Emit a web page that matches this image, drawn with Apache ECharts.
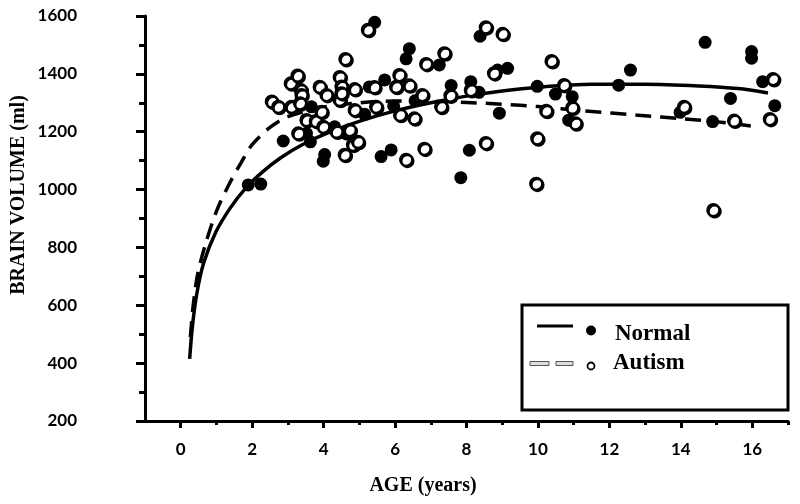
<!DOCTYPE html>
<html><head><meta charset="utf-8">
<script src="https://cdn.jsdelivr.net/npm/echarts@6/dist/echarts.min.js"></script>
<style>html,body{margin:0;padding:0;background:#fff}#c{width:800px;height:504px}</style>
</head><body><div id="c"></div>
<script>
const seriesNames = ['Normal', 'Autism'];
const xTitle = 'AGE (years)';
const yTitle = 'BRAIN VOLUME (ml)';
const xTickLabels = [0, 2, 4, 6, 8, 10, 12, 14, 16];
const xMinorTicks = [1, 3, 5, 7, 9, 11, 13, 15, 17];
const yTickLabels = [200, 400, 600, 800, 1000, 1200, 1400, 1600];

// Normal subjects (filled circles): [age, volume]
const normalPoints = [
  [1.89,1016],[2.24,1019],[2.87,1168],[3.52,1194],[3.63,1165],[3.66,1286],[3.99,1098],[4.03,1121],
  [4.31,1217],[4.64,1192],[5.15,1260],[5.28,1355],[5.43,1578],[5.61,1114],[5.71,1379],[5.89,1137],
  [5.96,1289],[6.31,1452],[6.40,1487],[6.56,1307],[7.24,1431],[7.57,1360],[7.84,1041],[8.08,1136],
  [8.12,1373],[8.35,1336],[8.38,1530],[8.87,1413],[8.92,1264],[9.15,1419],[9.98,1357],[10.49,1330],
  [10.86,1240],[10.96,1321],[12.26,1361],[12.59,1413],[13.98,1267],[14.68,1509],[14.89,1235],
  [15.39,1315],[15.98,1477],[15.98,1454],[16.29,1373],[16.63,1290]
];
// Autism subjects (open circles): [age, volume]
const autismPoints = [
  [2.55,1304],[2.73,1286],[3.08,1367],[3.10,1286],[3.27,1394],[3.29,1194],[3.36,1344],[3.38,1327],
  [3.34,1298],[3.52,1240],[3.78,1237],[3.89,1355],[3.94,1269],[3.99,1217],[4.08,1327],[4.36,1200],
  [4.45,1389],[4.45,1310],[4.50,1356],[4.50,1333],[4.61,1451],[4.59,1120],[4.73,1206],[4.82,1155],
  [4.87,1347],[4.87,1275],[4.96,1165],[5.24,1552],[5.42,1354],[5.47,1286],[6.03,1355],[6.12,1396],
  [6.14,1258],[6.31,1103],[6.40,1360],[6.54,1246],[6.76,1327],[6.82,1141],[6.87,1434],[7.29,1286],
  [7.38,1471],[7.55,1325],[8.12,1344],[8.54,1561],[9.01,1538],[8.77,1402],[8.54,1161],[9.98,1177],
  [9.95,1020],[10.38,1444],[10.73,1361],[10.23,1272],[10.96,1283],[11.05,1229],[14.09,1286],
  [15.49,1238],[16.49,1244],[16.58,1382],[14.91,929]
];
// Fitted curves
const normalFit = [
  [0.25,415],[0.33,530],[0.45,640],[0.64,745],[0.97,850],[1.38,935],[1.82,1005],[2.3,1062],
  [2.8,1110],[3.4,1155],[4.2,1200],[5.1,1240],[6.0,1272],[7.0,1300],[8.0,1323],[9.0,1341],
  [10.0,1354],[11.5,1364],[13.0,1364],[14.5,1358],[15.6,1349],[16.44,1334]
];
const autismFit = [
  [0.27,490],[0.35,600],[0.47,705],[0.69,810],[1.0,925],[1.34,1015],[1.7,1095],[2.0,1155],
  [2.5,1215],[3.0,1252],[4.0,1285],[5.0,1300],[6.0,1306],[7.0,1305],[8.0,1301],[9.0,1295],
  [10.0,1287],[11.3,1272],[12.8,1257],[14.1,1244],[15.2,1232],[16.15,1216]
];

const chart = echarts.init(document.getElementById('c'), null, {renderer: 'canvas'});
const gridPos = {left: 145, right: 12, top: 16, bottom: 83};
const labelFont = {color: '#000', fontFamily: 'Lato', fontWeight: 'bold', fontSize: 17};
const serif = '"Liberation Serif", "Times New Roman", serif';

chart.setOption({
  backgroundColor: '#fff',
  animation: false,
  grid: [Object.assign({}, gridPos), Object.assign({}, gridPos)],
  xAxis: [{
    type: 'value', gridIndex: 0, min: -1, max: 17, interval: 1,
    axisLine: {onZero: false, lineStyle: {color: '#000', width: 3}},
    axisTick: {show: true, customValues: xTickLabels, length: 7, lineStyle: {color: '#000', width: 3}},
    axisLabel: Object.assign({customValues: xTickLabels, margin: 20, formatter: v => String(v)}, labelFont),
    splitLine: {show: false}
  }, {
    type: 'value', gridIndex: 1, min: -1, max: 17, interval: 1, position: 'bottom',
    axisLine: {show: false, onZero: false},
    axisTick: {show: true, customValues: xMinorTicks, length: 4, lineStyle: {color: '#000', width: 3}},
    axisLabel: {show: false},
    splitLine: {show: false}
  }],
  yAxis: [{
    type: 'value', gridIndex: 0, min: 200, max: 1600, interval: 200,
    axisLine: {show: true, onZero: false, lineStyle: {color: '#000', width: 3}},
    axisTick: {show: true, length: 9, lineStyle: {color: '#000', width: 3}},
    minorTick: {show: true, splitNumber: 2, length: 6, lineStyle: {color: '#000', width: 3}},
    axisLabel: Object.assign({margin: 68, customValues: yTickLabels, formatter: v => String(v)}, labelFont),
    splitLine: {show: false}
  }, {
    type: 'value', gridIndex: 1, min: 200, max: 1600, interval: 200,
    show: false
  }],
  series: [{
    name: seriesNames[0] + ' fit', type: 'line', data: normalFit, xAxisIndex: 0, yAxisIndex: 0,
    smooth: 0.3, showSymbol: false, symbol: 'none', z: 1,
    lineStyle: {color: '#000', width: 3.5}
  }, {
    name: seriesNames[1] + ' fit', type: 'line', data: autismFit, xAxisIndex: 0, yAxisIndex: 0,
    smooth: 0.3, showSymbol: false, symbol: 'none', z: 1,
    lineStyle: {color: '#000', width: 3.5, type: [16, 9]}
  }, {
    name: seriesNames[0], type: 'scatter', data: normalPoints, xAxisIndex: 0, yAxisIndex: 0,
    symbol: 'circle', symbolSize: 13, z: 3,
    itemStyle: {color: '#000', opacity: 1}
  }, {
    name: seriesNames[1], type: 'scatter', data: autismPoints, xAxisIndex: 0, yAxisIndex: 0,
    symbol: 'circle', symbolSize: 12, z: 4,
    itemStyle: {color: '#fff', borderColor: '#000', borderWidth: 2.2, opacity: 1,
      shadowColor: '#000', shadowBlur: 0.5, shadowOffsetX: 1.3, shadowOffsetY: 1.3}
  }],
  graphic: [
    {type: 'text', x: 19, y: 195, rotation: Math.PI / 2, z: 10,
      style: {text: yTitle, fill: '#000', font: 'bold 20px ' + serif, align: 'center', verticalAlign: 'middle'}},
    {type: 'text', x: 423, y: 486, z: 10,
      style: {text: xTitle, fill: '#000', font: 'bold 20px ' + serif, align: 'center', verticalAlign: 'middle'}},
    {type: 'rect', shape: {x: 522, y: 305, width: 266, height: 105}, z: 10,
      style: {fill: '#fff', stroke: '#000', lineWidth: 3}},
    {type: 'line', shape: {x1: 537, y1: 326, x2: 573, y2: 326}, z: 11,
      style: {stroke: '#000', lineWidth: 3}},
    {type: 'circle', shape: {cx: 591, cy: 330.5, r: 5}, z: 11, style: {fill: '#000'}},
    {type: 'text', x: 615, y: 334, z: 11,
      style: {text: seriesNames[0], fill: '#000', font: 'bold 23px ' + serif, align: 'left', verticalAlign: 'middle'}},
    {type: 'rect', shape: {x: 530, y: 361.5, width: 19, height: 4}, z: 11,
      style: {fill: '#ddd', stroke: '#555', lineWidth: 1}},
    {type: 'rect', shape: {x: 556, y: 361.5, width: 17, height: 4}, z: 11,
      style: {fill: '#ddd', stroke: '#555', lineWidth: 1}},
    {type: 'circle', shape: {cx: 591, cy: 366, r: 3.5}, z: 11,
      style: {fill: '#fff', stroke: '#000', lineWidth: 1.8}},
    {type: 'text', x: 613, y: 363, z: 11,
      style: {text: seriesNames[1], fill: '#000', font: 'bold 23px ' + serif, align: 'left', verticalAlign: 'middle'}}
  ]
});
</script>
</body></html>
